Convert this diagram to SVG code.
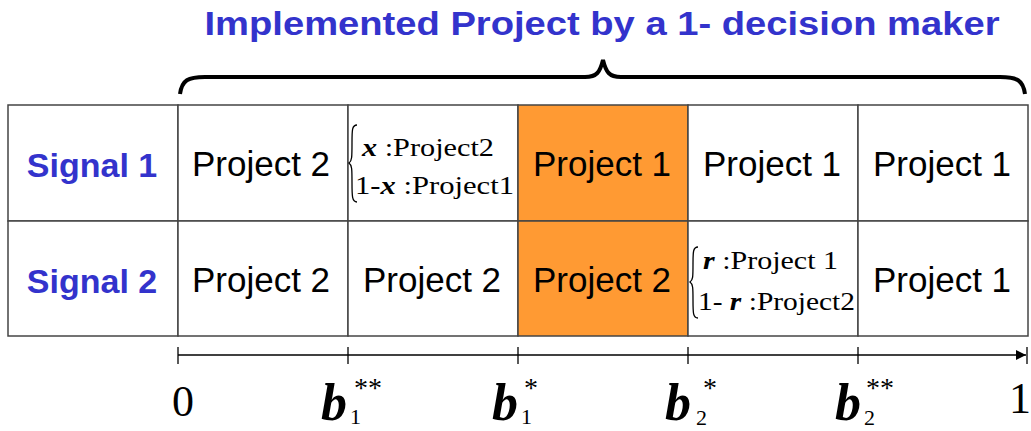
<svg xmlns="http://www.w3.org/2000/svg" width="1031" height="431" viewBox="0 0 1031 431">
<style>
.cell{fill:#fff;stroke:#444;stroke-width:1.5}
.hl{fill:#FF9A33;stroke:#444;stroke-width:1.5}
.t{font-family:"Liberation Sans",Arial,sans-serif;font-size:35px;fill:#000;text-anchor:middle}
.sig{font-family:"Liberation Sans",Arial,sans-serif;font-size:34px;font-weight:bold;fill:#3333CC;text-anchor:middle}
.s{font-family:"Liberation Serif","Times New Roman",serif;font-size:25px;fill:#000}
.bi{font-weight:bold;font-style:italic}
.ax{font-family:"Liberation Serif","Times New Roman",serif;fill:#000}
.bb{font-size:52px}
.sub{font-size:22px}
.sup{font-size:28px}
.line{stroke:#000;stroke-width:1.3;fill:none}
</style>
<defs>
<marker id="arr" viewBox="0 0 10 10" refX="10" refY="5" markerWidth="10" markerHeight="10" markerUnits="userSpaceOnUse" orient="auto">
<path d="M0,0 L10,5 L0,10 Z" fill="#000"/>
</marker>
</defs>
<rect width="1031" height="431" fill="#fff"/>
<text x="602" y="35" font-family="Liberation Sans,Arial,sans-serif" font-size="33" font-weight="bold" fill="#3333CC" text-anchor="middle" textLength="795" lengthAdjust="spacingAndGlyphs">Implemented Project by a 1- decision maker</text>
<path d="M180,94 C182,80 188,77 205,77 L585,77 C597,77 600,72 603,60 C606,72 609,77 621,77 L1000,77 C1017,77 1023,80 1025,94" fill="none" stroke="#000" stroke-width="4"/>
<g id="table">
<rect class="cell" x="8" y="105" width="170" height="116"/>
<rect class="cell" x="8" y="221" width="170" height="115"/>
<rect class="cell" x="178" y="105" width="170" height="116"/>
<rect class="cell" x="178" y="221" width="170" height="115"/>
<rect class="cell" x="348" y="105" width="170" height="116"/>
<rect class="cell" x="348" y="221" width="170" height="115"/>
<rect class="hl" x="518" y="105" width="170" height="116"/>
<rect class="hl" x="518" y="221" width="170" height="115"/>
<rect class="cell" x="688" y="105" width="170" height="116"/>
<rect class="cell" x="688" y="221" width="170" height="115"/>
<rect class="cell" x="858" y="105" width="170" height="116"/>
<rect class="cell" x="858" y="221" width="170" height="115"/>
</g>
<g id="signal1"><text class="sig" x="92" y="177">Signal 1</text></g>
<g id="signal2"><text class="sig" x="92" y="293">Signal 2</text></g>
<g id="r1c1"><text class="t" x="261" y="176">Project 2</text></g>
<g id="r1c2">
<path d="M357,125 C352,125 352,130 352,143 C352,157 352,161 349,163 C352,165 352,169 352,183 C352,196 352,202 357,202" fill="none" stroke="#000" stroke-width="1.3"/>
<text class="s" x="362" y="156" textLength="132" lengthAdjust="spacingAndGlyphs"><tspan class="bi">x</tspan> :Project2</text>
<text class="s" x="355" y="194" textLength="159" lengthAdjust="spacingAndGlyphs">1-<tspan class="bi">x</tspan> :Project1</text>
</g>
<g id="r1c3"><text class="t" x="602" y="176">Project 1</text></g>
<g id="r1c4"><text class="t" x="772" y="176">Project 1</text></g>
<g id="r1c5"><text class="t" x="942" y="176">Project 1</text></g>
<g id="r2c1"><text class="t" x="261" y="292">Project 2</text></g>
<g id="r2c2"><text class="t" x="432" y="292">Project 2</text></g>
<g id="r2c3"><text class="t" x="602" y="292">Project 2</text></g>
<g id="r2c4">
<path d="M698,247 C693,247 693,252 693,264 C693,277 693,280 690,282 C693,284 693,288 693,300 C693,313 693,318 698,318" fill="none" stroke="#000" stroke-width="1.3"/>
<text class="s" x="703" y="269" textLength="135" lengthAdjust="spacingAndGlyphs"><tspan class="bi">r</tspan> :Project  1</text>
<text class="s" x="698" y="310" textLength="157" lengthAdjust="spacingAndGlyphs">1- <tspan class="bi">r</tspan> :Project2</text>
</g>
<g id="r2c5"><text class="t" x="942" y="292">Project 1</text></g>
<g id="axis">
<line class="line" x1="178" y1="355" x2="1026" y2="355" marker-end="url(#arr)"/>
<line class="line" x1="178" y1="347" x2="178" y2="364"/>
<line class="line" x1="348" y1="347" x2="348" y2="364"/>
<line class="line" x1="518" y1="347" x2="518" y2="364"/>
<line class="line" x1="688" y1="347" x2="688" y2="364"/>
<line class="line" x1="858" y1="347" x2="858" y2="364"/>
<line class="line" x1="1027" y1="347" x2="1027" y2="364"/>
</g>
<g id="labels">
<text class="ax" x="172" y="416" font-size="44">0</text>
<text class="ax bi bb" x="321" y="420">b</text>
<text class="ax sub" x="350" y="424">1</text>
<text class="ax sup" x="354" y="397">**</text>
<text class="ax bi bb" x="492" y="420">b</text>
<text class="ax sub" x="521" y="424">1</text>
<text class="ax sup" x="524" y="397">*</text>
<text class="ax bi bb" x="665" y="420">b</text>
<text class="ax sub" x="696" y="425">2</text>
<text class="ax sup" x="703" y="397">*</text>
<text class="ax bi bb" x="835" y="420">b</text>
<text class="ax sub" x="864" y="425">2</text>
<text class="ax sup" x="866" y="397">**</text>
<text class="ax" x="1009" y="413" font-size="44">1</text>
</g>
</svg>
